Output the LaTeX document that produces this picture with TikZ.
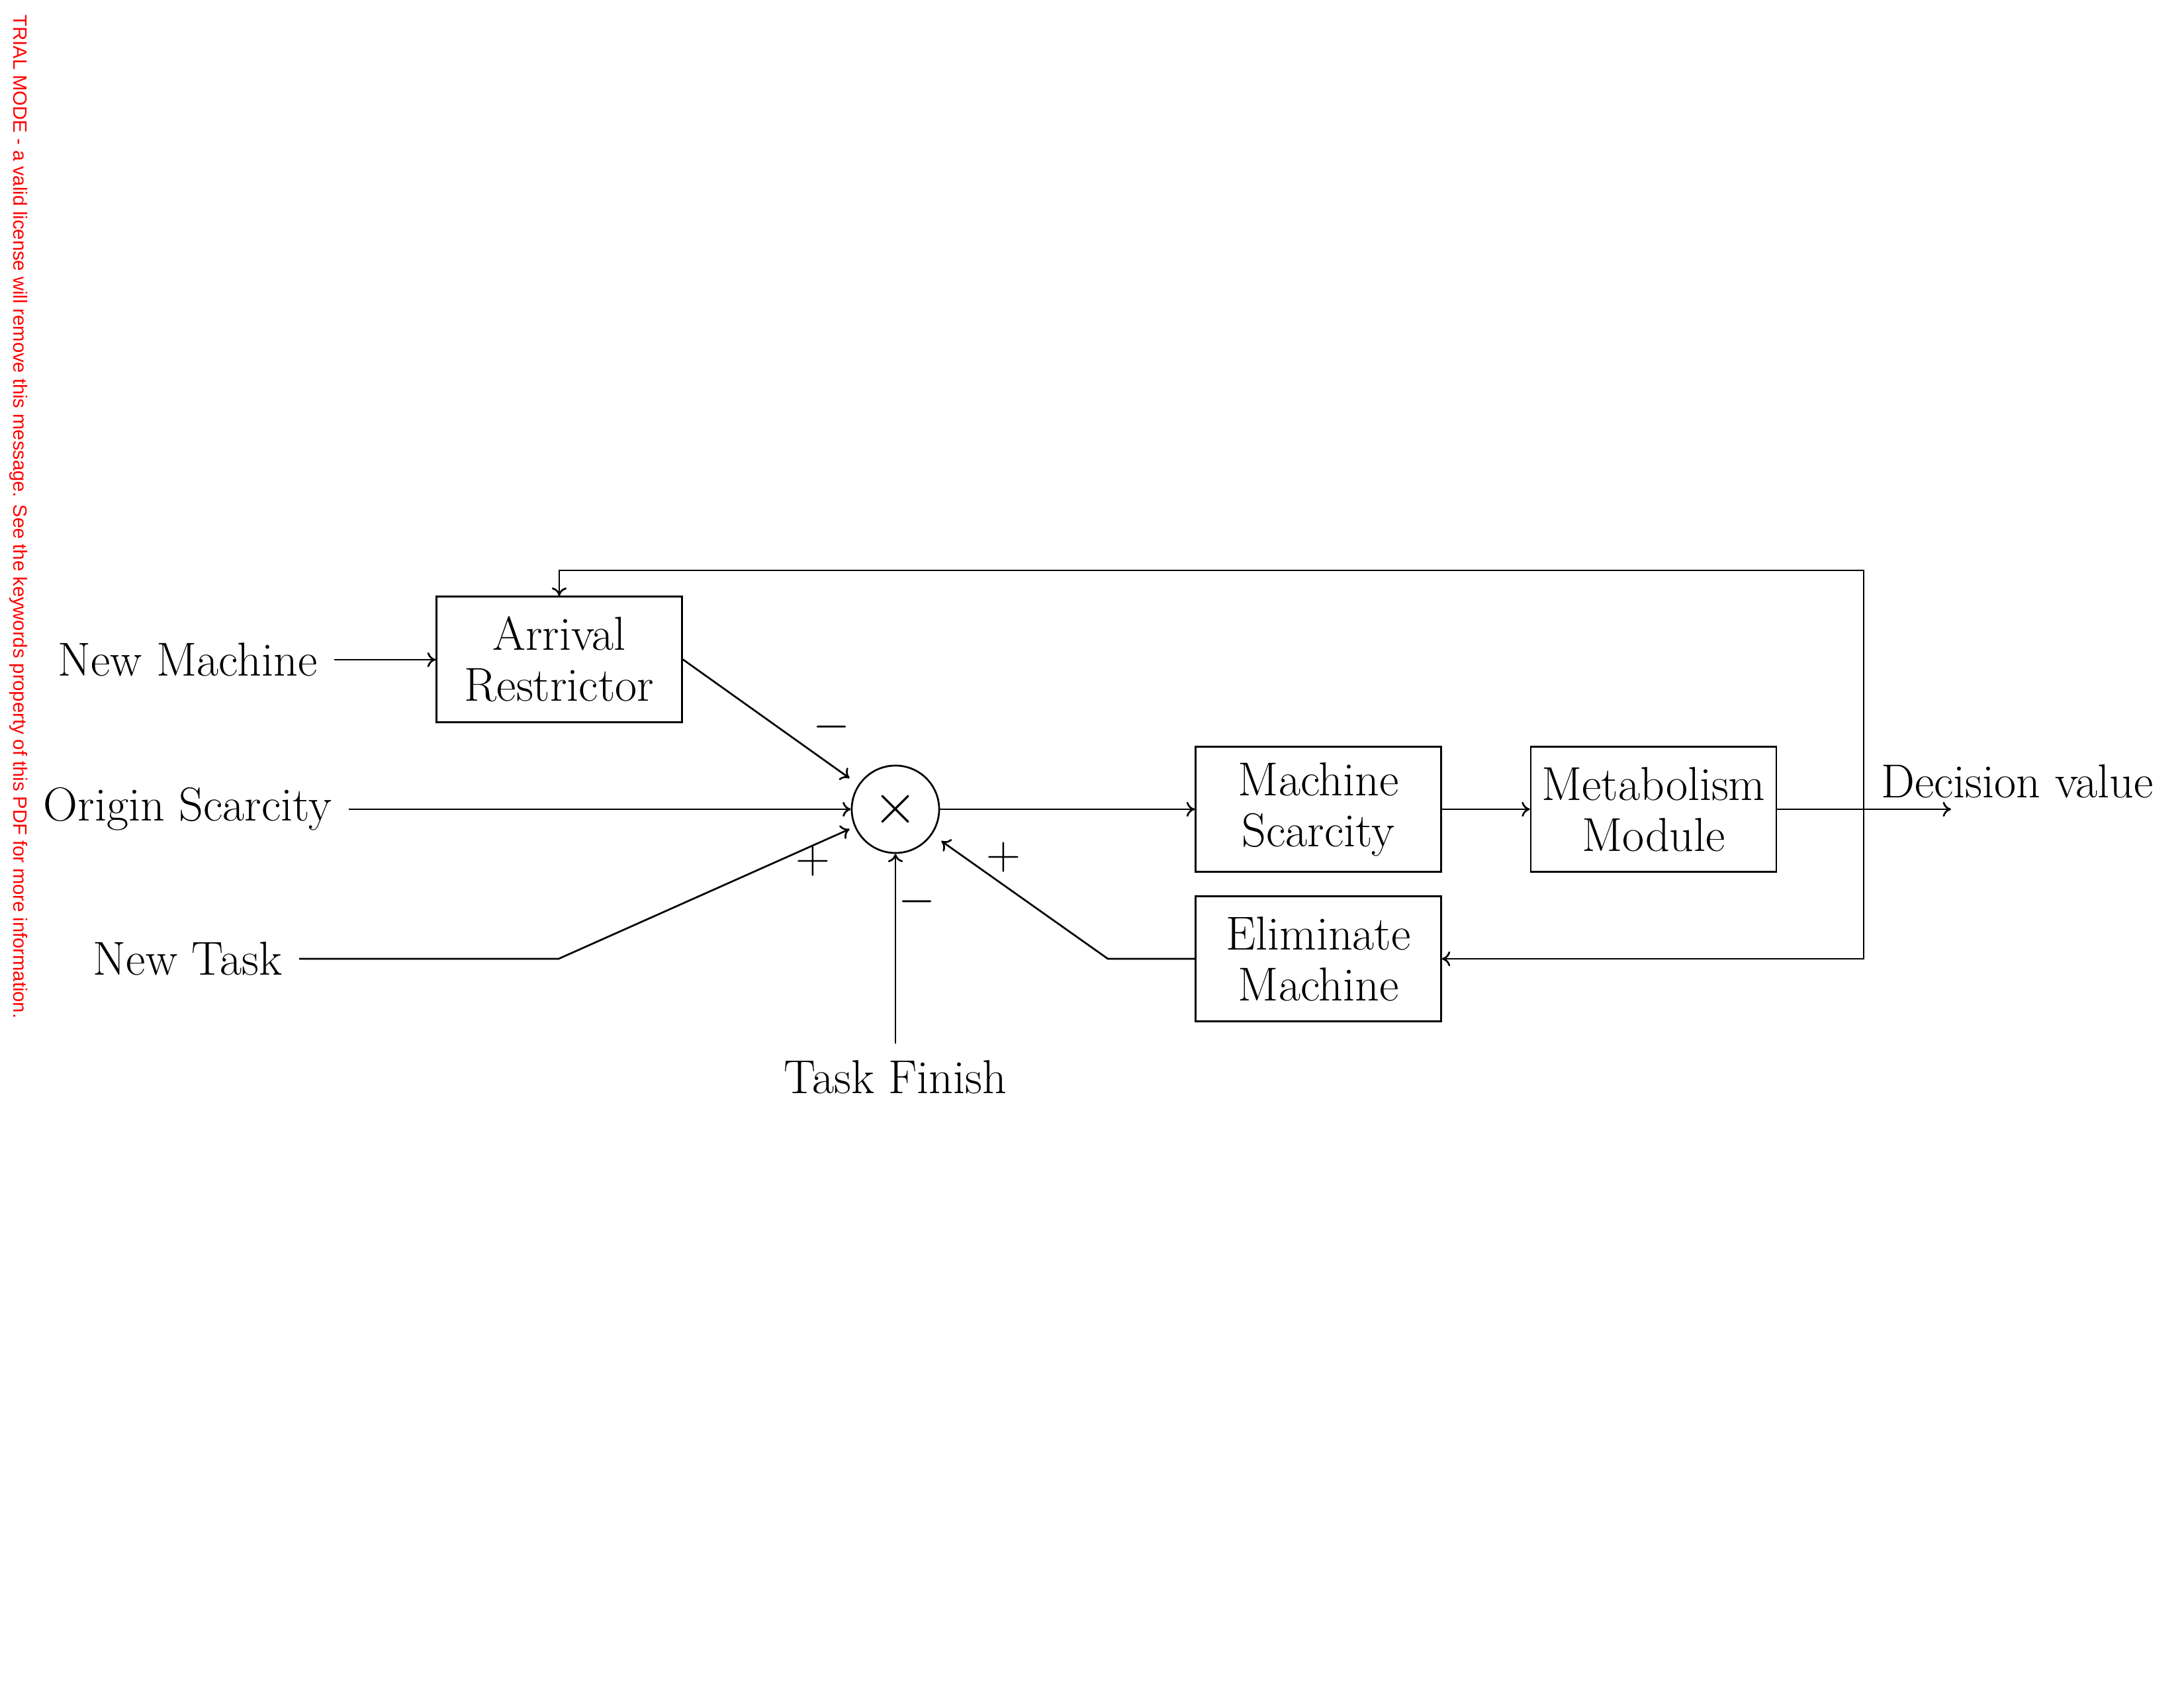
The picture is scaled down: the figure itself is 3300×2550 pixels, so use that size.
\documentclass[tikz,border=0pt]{standalone}
\usepackage{fontspec}
\newfontfamily\wmfont{Liberation Sans}
\usetikzlibrary{calc,arrows.meta}
\definecolor{wmred}{RGB}{255,0,0}
\tikzset{
  txt/.style={font=\fontsize{17.28}{18.5}\selectfont},
  lbl/.style={txt, inner sep=6pt},
  blk/.style={txt, draw, line width=0.65pt, minimum width=89pt, minimum height=45.5pt, align=center, inner sep=2pt},
  sumnode/.style={draw, circle, line width=0.65pt, minimum size=31.7pt, inner sep=0pt, font=\fontsize{20.5}{24}\selectfont},
  sgn/.style={txt, inner sep=0pt},
  conn/.style={-{To[length=3pt,width=5.4pt]}, line width=0.65pt},
  wm/.style={font=\wmfont\fontsize{7}{8}\selectfont, text=wmred, rotate=-90, inner sep=0pt, anchor=base west}
}
\begin{document}
\begin{tikzpicture}[x=0.24pt, y=-0.24pt]
\useasboundingbox (0,0) rectangle (3300,2550);
\node[wm] (wmk) at (21,22) {TRIAL MODE - a valid license will remove this message. See the keywords property of this PDF for more information.};
% blocks
\node[blk] (ar) at (845,996.5) {Arrival\\Restrictor};
\node[sumnode] (sum) at (1353,1223) {$\times$};
\node[blk] (ms) at (1992,1223) {Machine\\Scarcity};
\node[blk] (mm) at (2498.5,1223) {Metabolism\\Module};
\node[blk] (em) at (1992,1449) {Eliminate\\Machine};
% inputs / outputs
\node[lbl, anchor=east] (nm) at (505,997) {New Machine};
\node[lbl, anchor=east] (os) at (527,1223) {Origin Scarcity};
\node[lbl, anchor=east] (nt) at (452,1449) {New Task};
\node[lbl, anchor=north] (tf) at (1353,1577) {Task Finish};
\node[txt, anchor=base] (dv) at (3048,1205) {Decision value};
% signs
\node[sgn] (s1) at (1256,1098) {$-$};
\node[sgn] (s2) at (1228,1301) {$+$};
\node[sgn] (s3) at (1385,1362) {$-$};
\node[sgn] (s4) at (1516,1295) {$+$};
% helper coordinates
\coordinate (out) at (2948,1223);
\coordinate (split) at (2816,1223);
\coordinate (top) at (2816,862);
\coordinate (bot) at (2816,1449);
\coordinate (ntbend) at (844,1449);
\coordinate (embend) at (1674,1449);
% connectors
\draw[conn] (nm.east) -- (nm.east -| ar.west);
\draw[conn] (ar.east) -- ($(sum.west)+(-2,-47)$);
\draw[conn] (os.east) -- (sum.west);
\draw[conn] (nt.east) -- (ntbend) -- ($(sum.west)+(-2,30)$);
\draw[conn] (tf.north) -- (sum.south);
\draw[conn] (sum.east) -- (ms.west);
\draw[conn] (ms.east) -- (mm.west);
\draw[conn] (mm.east) -- (out);
\draw[conn] (split) -- (top) -| (ar.north);
\draw[conn] (split) -- (bot) -- (em.east);
\draw[conn] (em.west) -- (embend) -- ($(sum.east)+(2,48)$);
\end{tikzpicture}
\end{document}
